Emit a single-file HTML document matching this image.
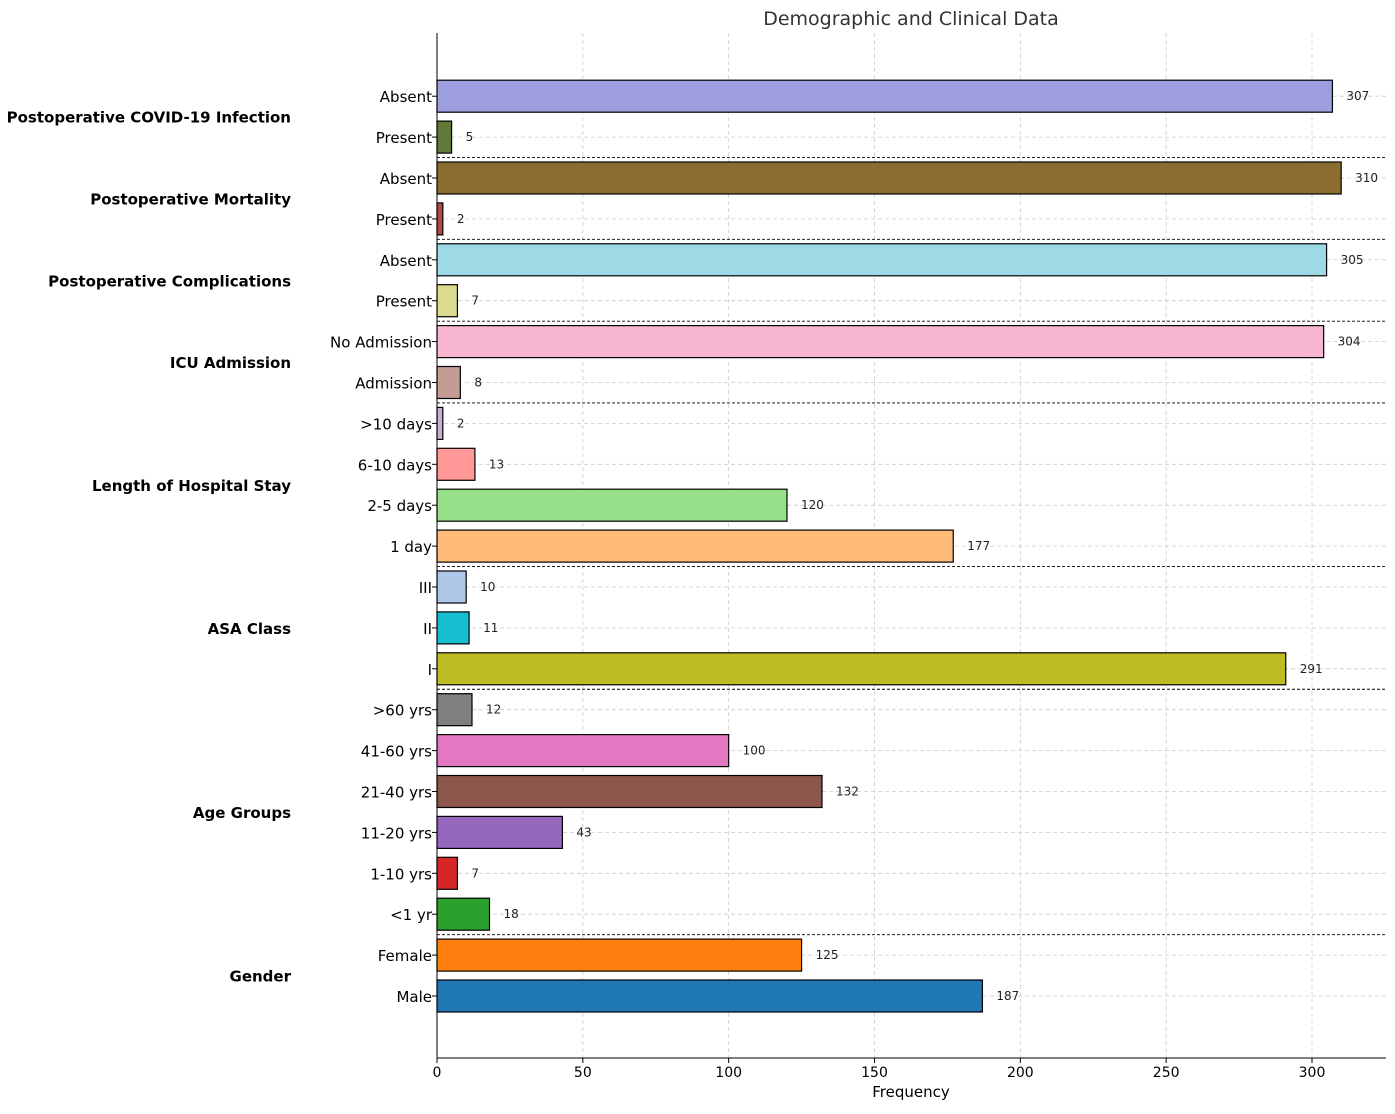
<!DOCTYPE html>
<html><head><meta charset="utf-8"><style>
body{margin:0;background:#fff;font-family:"Liberation Sans","DejaVu Sans",sans-serif}
svg text{font-family:"DejaVu Sans","Liberation Sans",sans-serif}
</style></head><body>
<svg id="c" width="1395" height="1109"></svg>
<script>
const categories=["Male","Female","<1 yr","1-10 yrs","11-20 yrs","21-40 yrs","41-60 yrs",">60 yrs","I","II","III","1 day","2-5 days","6-10 days",">10 days","Admission","No Admission","Present","Absent","Present","Absent","Present","Absent"];
const values=[187,125,18,7,43,132,100,12,291,11,10,177,120,13,2,8,304,7,305,2,310,5,307];
const colors=["#1f77b4","#ff7f0e","#2ca02c","#d62728","#9467bd","#8c564b","#e377c2","#7f7f7f","#bcbd22","#17becf","#aec7e8","#ffbb78","#98df8a","#ff9896","#c5b0d5","#c49c94","#f7b6d2","#dbdb8d","#9edae5","#ad494a","#8c6d31","#637939","#9c9ede"];
const groups=["Gender","Age Groups","ASA Class","Length of Hospital Stay","ICU Admission","Postoperative Complications","Postoperative Mortality","Postoperative COVID-19 Infection"];
const groupSizes=[2,6,3,4,2,2,2,2];
const xTicks=[0,50,100,150,200,250,300];
const NS="http://www.w3.org/2000/svg";
const svg=document.getElementById('c');
const x0=437,x1=1386,yTop=33,yBot=1058;
const X=v=>x0+v*(1312-437)/300;
const Y=i=>996-i*40.9;
function el(t,a,txt){const e=document.createElementNS(NS,t);for(const k in a)e.setAttribute(k,a[k]);if(txt!==undefined)e.textContent=txt;svg.appendChild(e);return e;}
// grid
xTicks.forEach(t=>{const g=el('line',{x1:X(t),x2:X(t),y1:yTop,y2:yBot,stroke:'#ccc','stroke-dasharray':'4,3','stroke-width':0.8});
});
categories.forEach((c,i)=>{const g=el('line',{x1:x0,x2:x1,y1:Y(i),y2:Y(i),stroke:'#ccc','stroke-dasharray':'4,3','stroke-width':0.8});
});
// bars
categories.forEach((c,i)=>{
const r=el('rect',{x:x0,y:Y(i)-16,width:X(values[i])-x0,height:32,fill:colors[i],stroke:'#000','stroke-width':1.2});


const v=el('text',{x:X(values[i])+14,y:Y(i)+4,'font-size':12,fill:'#222'},values[i]);

const l=el('text',{x:432,y:Y(i)+6,'font-size':15,'text-anchor':'end',fill:'#000'},c);

const tk=el('line',{x1:432,x2:437,y1:Y(i),y2:Y(i),stroke:'#000'});

});
// groups
let s=0;
groups.forEach((g,gi)=>{
const n=groupSizes[gi];const cy=(Y(s)+Y(s+n-1))/2;
const t=el('text',{x:291,y:cy+6,'font-size':15,'font-weight':'bold','text-anchor':'end',fill:'#000'},g);

if(gi>0){const ly=(Y(s)+Y(s-1))/2;const d=el('line',{x1:x0,x2:x1,y1:ly,y2:ly,stroke:'#000','stroke-dasharray':'3,2','stroke-width':0.9});
}
s+=n;});
// axes
let a=el('line',{x1:x0,x2:x0,y1:yTop,y2:yBot,stroke:'#000','stroke-width':1});
a=el('line',{x1:x0,x2:x1,y1:yBot,y2:yBot,stroke:'#000','stroke-width':1});
xTicks.forEach(t=>{const k=el('line',{x1:X(t),x2:X(t),y1:yBot,y2:yBot+5,stroke:'#000'});
const l=el('text',{x:X(t),y:yBot+19,'font-size':14,'text-anchor':'middle'},t);});
a=el('text',{x:911,y:1097,'font-size':15,'text-anchor':'middle'},'Frequency');
a=el('text',{x:911,y:25,'font-size':19,'text-anchor':'middle',fill:'#333'},'Demographic and Clinical Data');
</script>
</body></html>
